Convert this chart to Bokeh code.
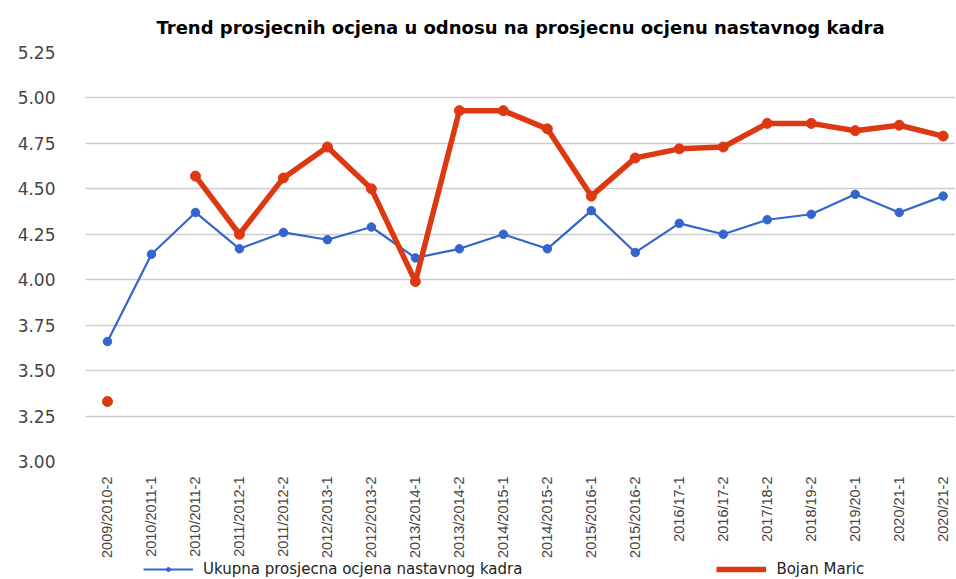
import math
from bokeh.plotting import figure
from bokeh.layouts import column
from bokeh.models import Range1d, FixedTicker, Legend, LegendItem, Title, CustomJSTickFormatter
from bokeh.embed import file_html
from bokeh.resources import INLINE

categories = ["2009/2010-2", "2010/2011-1", "2010/2011-2", "2011/2012-1", "2011/2012-2",
              "2012/2013-1", "2012/2013-2", "2013/2014-1", "2013/2014-2", "2014/2015-1",
              "2014/2015-2", "2015/2016-1", "2015/2016-2", "2016/17-1", "2016/17-2",
              "2017/18-2", "2018/19-2", "2019/20-1", "2020/21-1", "2020/21-2"]
ukupna = [3.66, 4.14, 4.37, 4.17, 4.26, 4.22, 4.29, 4.12, 4.17, 4.25,
          4.17, 4.38, 4.15, 4.31, 4.25, 4.33, 4.36, 4.47, 4.37, 4.46]
bojan = [3.33, float("nan"), 4.57, 4.25, 4.56, 4.73, 4.50, 3.99, 4.93, 4.93,
         4.83, 4.46, 4.67, 4.72, 4.73, 4.86, 4.86, 4.82, 4.85, 4.79]
y_ticks = [3.00, 3.25, 3.50, 3.75, 4.00, 4.25, 4.50, 4.75, 5.00, 5.25]
series_names = ["Ukupna prosjecna ocjena nastavnog kadra", "Bojan Maric"]

xs = list(range(len(categories)))

BLUE = "#3366cc"
RED = "#dc3912"

p = figure(frame_width=870, frame_height=409, output_backend="svg", toolbar_location=None,
           x_range=Range1d(-0.5, 19.28), y_range=Range1d(3.0, 5.25),
           min_border_left=85, min_border_right=0, min_border_top=52, min_border_bottom=0)
p.outline_line_color = None
p.add_layout(Title(text="Trend prosjecnih ocjena u odnosu na prosjecnu ocjenu nastavnog kadra",
                   text_font="DejaVu Sans", text_font_size="18px", text_font_style="bold",
                   text_color="#000000", align="center", vertical_align="top", standoff=26), "above")

p.line(xs, ukupna, line_color=BLUE, line_width=2.2)
p.scatter(xs, ukupna, size=8.5, fill_color=BLUE, line_color=BLUE)
p.line(xs, bojan, line_color=RED, line_width=5.5)
p.scatter(xs, bojan, size=10, fill_color=RED, line_color=RED)

p.xgrid.grid_line_color = None
p.ygrid.grid_line_color = "#cccccc"
p.ygrid.grid_line_width = 1.5
p.yaxis.ticker = FixedTicker(ticks=y_ticks)
p.yaxis.formatter = CustomJSTickFormatter(code="return tick.toFixed(2);")
p.xaxis.ticker = FixedTicker(ticks=xs)
p.xaxis.major_label_overrides = {i: c for i, c in enumerate(categories)}
p.xaxis.major_label_orientation = math.pi / 2

for ax in (p.xaxis, p.yaxis):
    ax.axis_line_color = None
    ax.major_tick_line_color = None
    ax.minor_tick_line_color = None
    ax.major_label_text_color = "#444444"
p.yaxis.major_label_text_font = "DejaVu Sans"
p.yaxis.major_label_text_font_size = "17px"
p.yaxis.major_label_standoff = 24
p.xaxis.major_label_text_font = "Liberation Sans"
p.xaxis.major_label_text_font_size = "14.5px"
p.xaxis.major_label_standoff = 9

# strip holding the legend, below the chart; its series lie outside its view
lf = figure(width=956, height=20, output_backend="svg", toolbar_location=None,
            x_range=Range1d(-0.5, 19.28), y_range=Range1d(0, 1),
            x_axis_location=None, y_axis_location=None,
            min_border_left=0, min_border_right=0, min_border_top=0, min_border_bottom=0)
lf.outline_line_color = None
lf.grid.grid_line_color = None
lbl = lf.line(xs, ukupna, line_color=BLUE, line_width=2.2)
lbs = lf.scatter(xs, ukupna, size=8.5, fill_color=BLUE, line_color=BLUE)
lrl = lf.line(xs, bojan, line_color=RED, line_width=5.5)
lrs = lf.scatter(xs, bojan, size=10, fill_color=RED, line_color=RED)

legend = Legend(items=[
    LegendItem(label=series_names[0], renderers=[lbl, lbs]),
    LegendItem(label=series_names[1], renderers=[lrl, lrs]),
], orientation="horizontal", location=(58, 2),
    label_text_font="DejaVu Sans", label_text_font_size="15px", label_text_color="#222222",
    label_height=15, glyph_width=50, glyph_height=10, spacing=194, padding=0, margin=0,
    border_line_color=None, background_fill_alpha=0, label_standoff=10)
lf.add_layout(legend, "center")

open("out.html", "w").write(file_html(column(p, lf, spacing=0), INLINE))
